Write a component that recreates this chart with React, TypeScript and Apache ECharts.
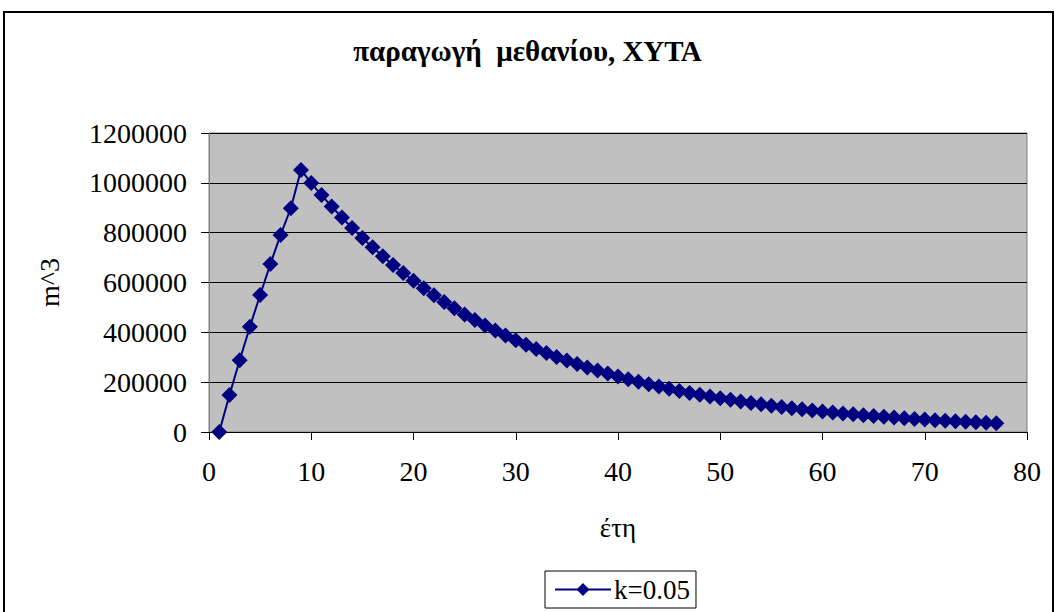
import React, { useEffect, useRef } from "react";
import * as echarts from "echarts";

const years: number[] = [
  1, 2, 3, 4, 5, 6, 7, 8, 9, 10,
  11, 12, 13, 14, 15, 16, 17, 18, 19, 20,
  21, 22, 23, 24, 25, 26, 27, 28, 29, 30,
  31, 32, 33, 34, 35, 36, 37, 38, 39, 40,
  41, 42, 43, 44, 45, 46, 47, 48, 49, 50,
  51, 52, 53, 54, 55, 56, 57, 58, 59, 60,
  61, 62, 63, 64, 65, 66, 67, 68, 69, 70,
  71, 72, 73, 74, 75, 76, 77,
];

const methane: number[] = [
  0, 148000, 288000, 422000, 550000, 674000, 791000, 898000, 1052000, 999000,
  951000, 905000, 861000, 819000, 779000, 741000, 705000, 670000, 638000, 607000,
  577000, 549000, 522000, 497000, 472000, 449000, 427000, 407000, 387000, 368000,
  350000, 333000, 317000, 301000, 287000, 273000, 259000, 247000, 235000, 223000,
  212000, 202000, 192000, 183000, 174000, 165000, 157000, 150000, 142000, 135000,
  129000, 122000, 116000, 111000, 105000, 100000, 95000, 91000, 86000, 82000,
  78000, 74000, 71000, 67000, 64000, 61000, 58000, 55000, 52000, 50000,
  47000, 45000, 43000, 41000, 39000, 37000, 35000,
];

const titleText = "παραγωγή  μεθανίου, ΧΥΤΑ";
const xName = "έτη";
const yName = "m^3";
const seriesName = "k=0.05";

export default function App() {
  const ref = useRef<HTMLDivElement>(null);
  useEffect(() => {
    if (!ref.current) return;
    const chart = echarts.init(ref.current, null, { renderer: "svg" });
    const font = "Liberation Serif";
    chart.setOption({
      animation: false,
      backgroundColor: "#ffffff",
      textStyle: { fontFamily: font, fontSize: 28 },
      title: {
        text: titleText,
        left: "center",
        top: 31,
        textStyle: { fontFamily: font, fontSize: 29, fontWeight: "bold", color: "#000" },
      },
      graphic: [
        {
          type: "rect",
          shape: { x: 4, y: 12, width: 1049, height: 640 },
          style: { fill: "none", stroke: "#000", lineWidth: 2 },
          z: 100,
        },
      ],
      legend: {
        top: 571,
        left: 545,
        data: [seriesName],
        backgroundColor: "#fff",
        borderColor: "#000",
        borderWidth: 1,
        borderRadius: 0,
        padding: [5, 6, 5, 9],
        itemWidth: 56,
        itemHeight: 16,
        itemGap: 2,
        textStyle: { fontFamily: font, fontSize: 27, color: "#000", padding: [0, 0, 0, -2] },
      },
      grid: {
        left: 209,
        right: 28,
        top: 133,
        bottom: 180,
        show: true,
        backgroundColor: "#C0C0C0",
        borderColor: "#808080",
        borderWidth: 1,
      },
      xAxis: {
        type: "value",
        min: 0,
        max: 80,
        interval: 10,
        name: xName,
        nameLocation: "middle",
        nameGap: 82,
        nameTextStyle: { fontFamily: font, fontSize: 27, color: "#000" },
        axisLine: { show: true, lineStyle: { color: "#000", width: 1 } },
        axisTick: { show: true, inside: false, length: 8, lineStyle: { color: "#000" } },
        axisLabel: { fontFamily: font, fontSize: 28, color: "#000", margin: 25, formatter: (v: number) => String(v) },
        splitLine: { show: false },
      },
      yAxis: {
        type: "value",
        min: 0,
        max: 1200000,
        interval: 200000,
        name: yName,
        nameLocation: "middle",
        nameGap: 146,
        nameRotate: 90,
        nameTextStyle: { fontFamily: font, fontSize: 28, color: "#000" },
        axisLine: { show: true, lineStyle: { color: "#808080", width: 1 } },
        axisTick: { show: true, inside: false, length: 8, lineStyle: { color: "#000" } },
        axisLabel: { fontFamily: font, fontSize: 28, color: "#000", margin: 22, formatter: (v: number) => String(v) },
        splitLine: { show: true, lineStyle: { color: "#000", width: 1 } },
      },
      series: [
        {
          name: seriesName,
          type: "line",
          data: years.map((y, i) => [y, methane[i]]),
          symbol: "diamond",
          symbolSize: 16,
          showAllSymbol: true,
          lineStyle: { color: "#000080", width: 2 },
          itemStyle: { color: "#000080" },
          z: 5,
        },
      ],
    });
    return () => chart.dispose();
  }, []);
  return (
    <div
      ref={ref}
      style={{ position: "fixed", left: 0, top: 0, width: 1055, height: 612 }}
    />
  );
}
